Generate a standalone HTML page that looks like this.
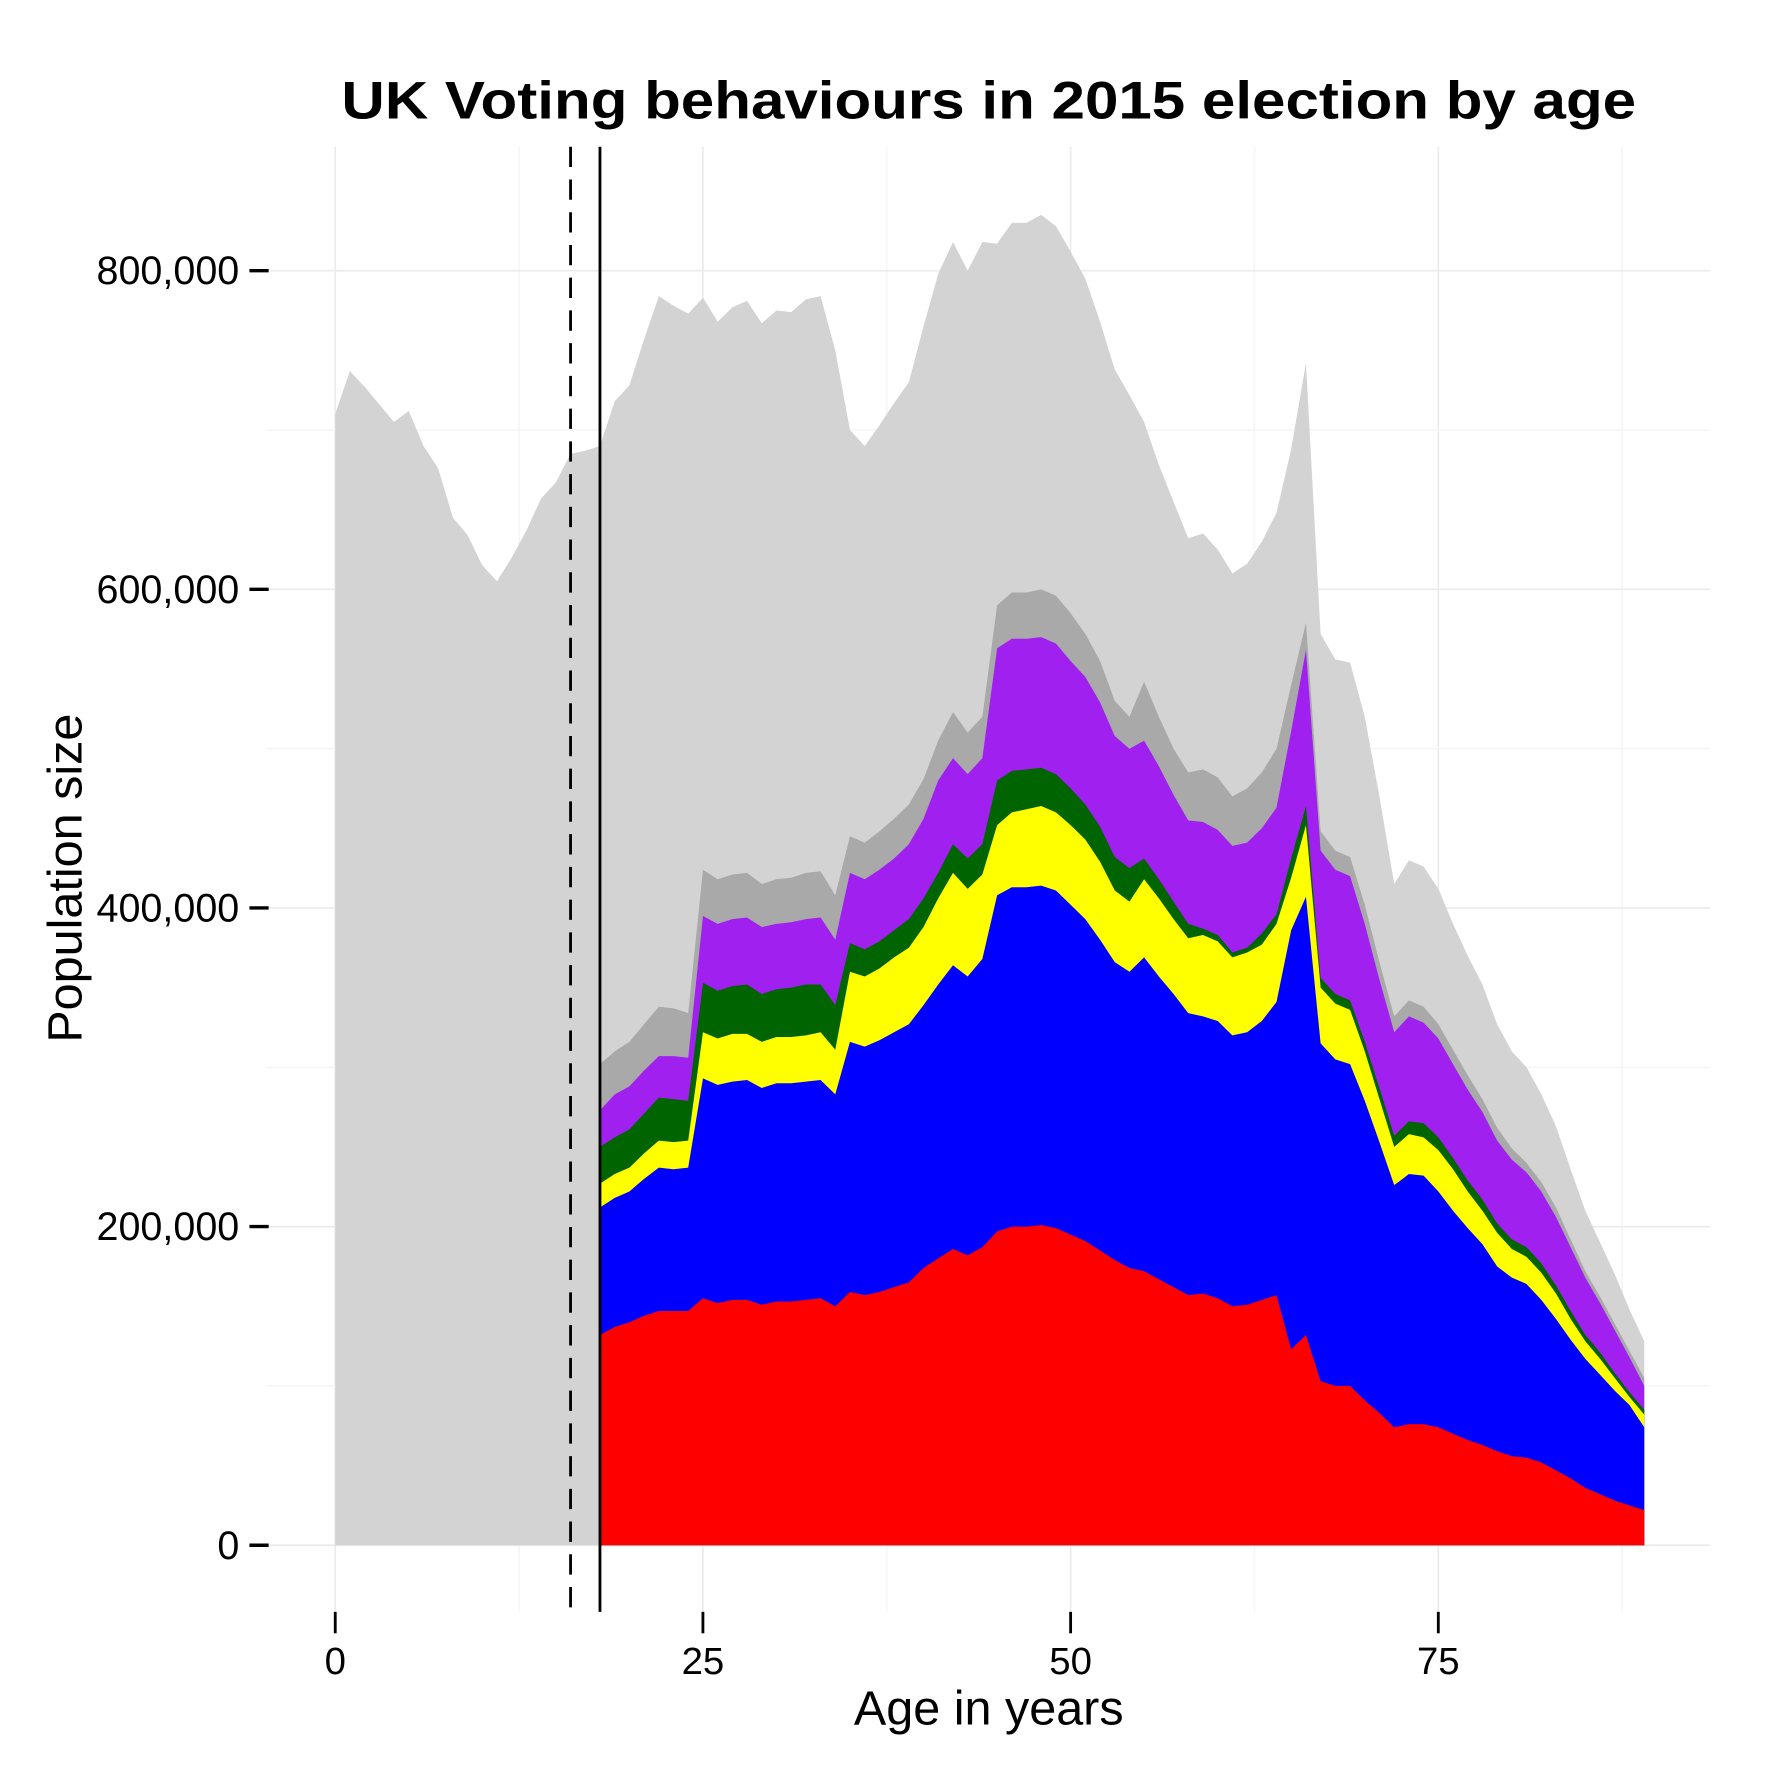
<!DOCTYPE html>
<html><head><meta charset="utf-8"><style>
html,body{margin:0;padding:0;background:#fff}
svg{display:block}
text{font-family:"Liberation Sans",sans-serif;fill:#000}
</style></head><body>
<svg id="chart" width="1771" height="1771" viewBox="0 0 1569 1569" xmlns="http://www.w3.org/2000/svg">
<text x="876" y="105" font-size="47" font-weight="bold" text-anchor="middle" textLength="1147" lengthAdjust="spacingAndGlyphs">UK Voting behaviours in 2015 election by age</text>
<g id="grid"></g>
<g id="areas"></g>
<g id="axes"></g>
<text x="876" y="1528" font-size="43" text-anchor="middle">Age in years</text>
<text transform="translate(72,778) rotate(-90)" font-size="43" text-anchor="middle">Population size</text>
</svg>
<script>
// ages 0..89 total population (thousands)
const totalPop = [710,737,727,716,705,712,690,676,645,634,615,605,620,637,657,667,685,687,690,718,728,757,784,778,773,783,768,777,781,767,775,774,782,784,750,700,690,703,717,730,765,798,818,800,818,817,830,830,835,828,812,795,768,738,722,705,678,655,632,635,625,610,616,630,648,688,742,572,556,554,520,470,415,430,426,412,390,370,352,327,310,300,283,263,236,210,190,170,148,128];
// ages 18..89 cumulative stack tops (thousands)
const cumRed = [132,137,140,144,147,147,147,155,152,154,154,151,153,153,154,155,150,159,157,159,162,165,174,180,186,182,187,197,200,200,201,199,195,191,185,179,174,172,167,162,157,158,155,150,151,154,157,123,132,103,100,100,91,83,74,76,76,74,70,66,63,59,56,55,52,47,42,36,32,28,25,22];
const cumBlue = [212,218,222,230,237,236,237,293,289,291,292,287,290,290,291,292,283,316,313,317,322,327,339,352,364,357,368,408,413,413,414,411,402,393,380,366,360,369,357,346,334,332,329,320,322,329,341,386,407,315,305,302,279,253,226,233,232,222,210,199,189,175,168,164,154,142,129,117,107,97,88,74];
const cumYellow = [227,233,237,246,254,253,254,322,318,321,321,316,319,319,320,322,311,360,357,362,369,375,388,406,422,412,421,452,460,462,464,460,452,443,429,411,404,418,406,393,381,383,379,369,372,377,390,419,452,350,340,336,310,280,250,258,256,248,236,222,210,196,186,181,171,158,142,128,117,105,93,82];
const cumGreen = [250,256,261,271,281,280,279,353,348,351,352,346,349,350,352,352,339,378,374,379,386,393,406,422,440,431,440,480,486,487,488,484,475,465,451,432,425,431,418,404,390,387,383,372,375,384,396,431,464,356,346,342,316,287,257,266,265,256,243,229,217,202,192,187,177,163,147,132,121,108,96,85];
const cumPurple = [273,283,288,298,307,307,306,395,390,393,394,388,390,391,393,394,380,422,418,424,431,440,456,480,494,484,494,563,569,569,570,566,555,545,529,508,500,505,489,471,455,454,449,439,441,450,463,511,562,436,424,420,390,355,322,332,328,318,302,286,272,254,242,234,222,206,187,168,152,135,118,100];
const cumOther = [302,310,316,327,338,337,334,424,418,421,422,415,418,419,422,423,408,445,441,448,456,465,481,505,523,510,520,590,598,598,600,596,585,572,555,530,520,542,520,500,485,487,482,470,475,485,500,540,579,448,436,432,402,366,332,342,338,327,311,295,280,262,249,240,228,212,192,172,156,139,122,105];
const xTicks = [0,25,50,75];
const yTicks = [0,200000,400000,600000,800000];
const yTickLabels = ["0","200,000","400,000","600,000","800,000"];
const voteStartAge = 18;

const NS="http://www.w3.org/2000/svg";
const X = a => 297 + a*13.03;
const Y = v => 1369 - v*282.3/200000;
function mk(tag, attrs, parent){const e=document.createElementNS(NS,tag);for(const k in attrs)e.setAttribute(k,attrs[k]);parent.appendChild(e);return e;}
const grid=document.getElementById('grid'), areas=document.getElementById('areas'), axes=document.getElementById('axes');
for(let a=-12.5;a<=100;a+=12.5){const x=X(a);if(x<236||x>1515)continue;const major=(a%25===0);
 const l=mk('line',{x1:x,x2:x,y1:130,y2:1428,stroke:major?'#ebebeb':'#f6f6f6','stroke-width':1.5},grid);
 }
for(let v=0;v<=900000;v+=100000){const y=Y(v);if(y<130)continue;const major=(v%200000===0);
 const l=mk('line',{x1:236,x2:1515,y1:y,y2:y,stroke:major?'#ebebeb':'#f6f6f6','stroke-width':1.5},grid);
 }
function areaPath(ages, top, bottom){let d='';ages.forEach((a,i)=>{d+=(i?'L':'M')+X(a).toFixed(1)+','+Y(top[i]*1000).toFixed(1);});
 for(let i=ages.length-1;i>=0;i--){d+='L'+X(ages[i]).toFixed(1)+','+Y(bottom?bottom[i]*1000:0).toFixed(1);}return d+'Z';}
const allAges=totalPop.map((_,i)=>i);
const vAges=cumRed.map((_,i)=>i+voteStartAge);
const pt=mk('path',{d:areaPath(allAges,totalPop,null),fill:'#d3d3d3'},areas);

const layers=[[cumOther,'#a9a9a9','area-other-parties'],[cumPurple,'#a020f0','area-ukip'],[cumGreen,'#006400','area-green'],[cumYellow,'#ffff00','area-libdem'],[cumBlue,'#0000ff','area-conservative'],[cumRed,'#ff0000','area-labour']];
layers.forEach(([arr,col,name])=>{const p=mk('path',{d:areaPath(vAges,arr,null),fill:col},areas);
 });
const dl=mk('line',{x1:X(16),x2:X(16),y1:130,y2:1428,stroke:'#000','stroke-width':2.5,'stroke-dasharray':'18,11'},axes);

const sl=mk('line',{x1:X(18),x2:X(18),y1:130,y2:1428,stroke:'#000','stroke-width':2.5},axes);

xTicks.forEach(a=>{const t=mk('line',{x1:X(a),x2:X(a),y1:1428,y2:1447,stroke:'#000','stroke-width':2.5},axes);
 
 const tx=mk('text',{x:X(a),y:1483,'font-size':34,'text-anchor':'middle'},axes);tx.textContent=String(a);
 });
yTicks.forEach((v,i)=>{const t=mk('line',{x1:221,x2:238,y1:Y(v),y2:Y(v),stroke:'#000','stroke-width':3},axes);
 
 const tx=mk('text',{x:212,y:Y(v)+12,'font-size':35,'text-anchor':'end'},axes);tx.textContent=yTickLabels[i];
 });
</script>
</body></html>
